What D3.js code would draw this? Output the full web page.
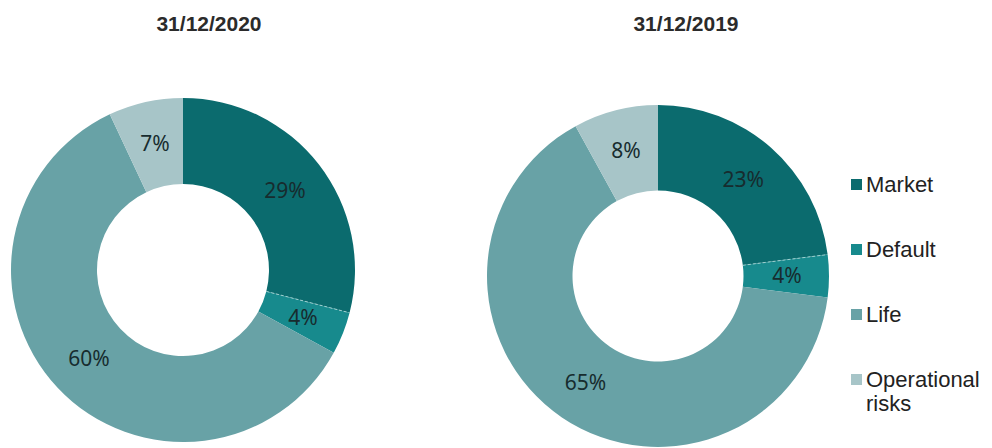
<!DOCTYPE html>
<html>
<head>
<meta charset="utf-8">
<script src="https://cdn.jsdelivr.net/npm/d3@7"></script>
<style>
  html, body { margin: 0; padding: 0; background: #fff; }
  svg { display: block; }
  .title { font-family: "Liberation Sans", Arial, sans-serif; font-weight: bold; font-size: 21px; fill: #2b2b2b; }
  .pct { font-family: "Noto Sans", "Open Sans", sans-serif; font-size: 21px; fill: #172c2e; }
  .legend text { font-family: "Liberation Sans", Arial, sans-serif; font-size: 22px; fill: #222; }
</style>
</head>
<body>
<div id="chart"></div>
<script>
const categories = ["Market", "Default", "Life", "Operational risks"];
const dates = ["31/12/2020", "31/12/2019"];
const values2020 = [29, 4, 60, 7];
const values2019 = [23, 4, 65, 8];

const colors = ["#0b6b6e", "#178a8d", "#68a2a6", "#a7c5c8"];

const width = 992;
const height = 448;

const svg = d3.select("#chart").append("svg")
  .attr("width", width)
  .attr("height", height)
  .attr("viewBox", [0, 0, width, height]);

const color = d3.scaleOrdinal().domain(categories).range(colors);

const pie = d3.pie().sort(null).value((d) => d.value);

// one donut per date
const donuts = [
  { date: dates[0], values: values2020, cx: 183, cy: 270, r: 172, titleX: 209 },
  { date: dates[1], values: values2019, cx: 658, cy: 276, r: 171, titleX: 686 },
];

donuts.forEach((donut) => {
  const data = categories.map((c, i) => ({ category: c, value: donut.values[i] }));
  const arcs = pie(data);
  const inner = donut.r * 0.5;
  const arc = d3.arc().innerRadius(inner).outerRadius(donut.r);
  const labelArc = d3.arc().innerRadius(129).outerRadius(129);

  svg.append("text")
    .attr("class", "title")
    .attr("x", donut.titleX)
    .attr("y", 31)
    .attr("text-anchor", "middle")
    .text(donut.date);

  const g = svg.append("g").attr("transform", `translate(${donut.cx},${donut.cy})`);

  g.selectAll("path")
    .data(arcs)
    .join("path")
    .attr("d", arc)
    .attr("fill", (d) => color(d.data.category));

  // dashed separator between Market and Default
  const a = arcs[0].endAngle;
  g.append("line")
    .attr("x1", Math.sin(a) * inner)
    .attr("y1", -Math.cos(a) * inner)
    .attr("x2", Math.sin(a) * donut.r)
    .attr("y2", -Math.cos(a) * donut.r)
    .attr("stroke", "#9fd0d0")
    .attr("stroke-width", 1)
    .attr("stroke-dasharray", "3,2");

  g.selectAll("text")
    .data(arcs)
    .join("text")
    .attr("class", "pct")
    .attr("text-anchor", "middle")
    .attr("dy", "0.35em")
    .attr("transform", (d) => {
      const [x, y] = labelArc.centroid(d);
      return `translate(${x},${y})`;
    })
    .text((d) => d.data.value + "%");
});

// legend
const legend = svg.append("g")
  .attr("class", "legend")
  .attr("transform", "translate(851,184)");

const item = legend.selectAll("g")
  .data(categories)
  .join("g")
  .attr("transform", (d, i) => `translate(0,${i * 65})`);

item.append("rect")
  .attr("x", 0)
  .attr("y", -5)
  .attr("width", 11)
  .attr("height", 11)
  .attr("fill", (d) => color(d));

item.append("text")
  .each(function (d) {
    const words = d === "Operational risks" ? ["Operational", "risks"] : [d];
    d3.select(this).selectAll("tspan")
      .data(words)
      .join("tspan")
      .attr("x", 15)
      .attr("dy", (w, i) => (i === 0 ? "0.35em" : "1.1em"))
      .text((w) => w);
  });
</script>
</body>
</html>
